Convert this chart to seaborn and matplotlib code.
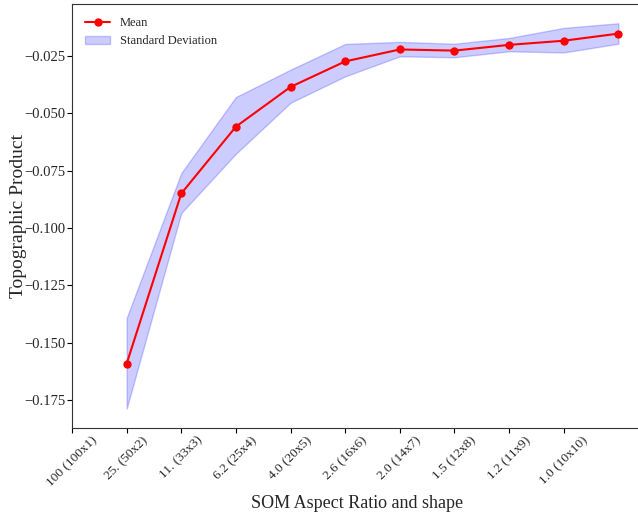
import numpy as np
import seaborn as sns
import matplotlib.pyplot as plt

tick_labels = ['100 (100x1)', '25. (50x2)', '11. (33x3)', '6.2 (25x4)', '4.0 (20x5)',
               '2.6 (16x6)', '2.0 (14x7)', '1.5 (12x8)', '1.2 (11x9)', '1.0 (10x10)']
runs = [1, 2, 3, 4, 5, 6, 7, 8, 9, 10]
mean = [-0.1591, -0.0850, -0.0559, -0.0386, -0.0275, -0.0223, -0.0228, -0.0203, -0.0185, -0.0154]
upper = [-0.1392, -0.0761, -0.0430, -0.0311, -0.0199, -0.0190, -0.0198, -0.0173, -0.0129, -0.0109]
lower = [-0.1787, -0.0935, -0.0677, -0.0455, -0.0340, -0.0253, -0.0257, -0.0231, -0.0236, -0.0198]

sns.set_style('white')
plt.rcParams['font.family'] = ['Liberation Serif', 'DejaVu Serif']

fig = plt.figure(figsize=(6.38, 5.12), dpi=100)
ax = fig.add_axes([72 / 638, 84 / 512, 571 / 638, 424 / 512])

ax1 = sns.lineplot(x=runs, y=mean, marker='o', color='red', label='Mean',
                   markersize=6, markeredgewidth=0, ax=ax)
ax1.fill_between(runs, lower, upper, color='blue', alpha=0.2, label='Standard Deviation')

ax1.set_xticks(np.arange(0, 10))
ax1.set_xticklabels(tick_labels, rotation=45, fontsize=9.5)
ax1.tick_params(axis='y', labelsize=10.5, pad=1.5)
ax1.tick_params(axis='x', pad=1)
ax1.tick_params(axis='both', length=3.5, width=0.8, color='black', bottom=True, left=True)
for s in ax1.spines.values():
    s.set_color('#333333')
    s.set_linewidth(0.8)
ax1.spines['right'].set_visible(False)

ax1.set_xlabel('SOM Aspect Ratio and shape', fontsize=13)
ax1.set_ylabel('Topographic Product', fontsize=14)
ax1.yaxis.set_label_coords(-0.078, 0.5)
ax1.legend(loc='upper left', frameon=False, fontsize=9, borderaxespad=0.65)

fig.savefig('out.png', dpi=100)
